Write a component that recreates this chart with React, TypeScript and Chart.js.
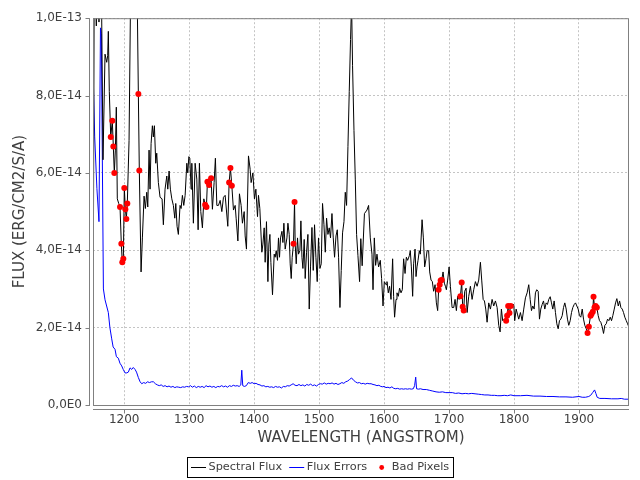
import React, { useEffect, useRef } from "react";
import { Chart, registerables } from "chart.js";

Chart.register(...registerables);

// ---- data (flux values in units of 1e-14 erg/cm2/s/A) ----
const FLUX_UNIT = 1e-14;
const X_MIN = 1152;
const X_MAX = 1977;
const Y_MAX = 1e-13;
const Y_STEP = 2e-14;
const X_STEP = 100;

const fluxWavelength = [
  1152.5, 1154.0, 1157.1, 1159.2, 1161.2, 1164.3, 1167.4, 1170.5, 1173.1, 1174.6,
  1175.6, 1177.1, 1179.3, 1181.7, 1183.3, 1184.8, 1186.4, 1187.9, 1189.4, 1191.6,
  1193.6, 1195.6, 1197.1, 1198.7, 1200.2, 1201.8, 1203.3, 1204.8, 1207.5, 1210.1,
  1213.2, 1217.0, 1220.3, 1221.8, 1223.3, 1226.0, 1228.0, 1230.6, 1232.6, 1234.7,
  1236.3, 1238.3, 1239.8, 1241.4, 1243.4, 1244.9, 1246.5, 1248.6, 1250.1, 1252.6,
  1255.2, 1258.3, 1260.3, 1262.9, 1265.6, 1267.1, 1269.1, 1271.1, 1273.3, 1275.7,
  1277.9, 1279.4, 1281.4, 1283.4, 1286.0, 1287.6, 1289.6, 1291.7, 1293.8, 1296.4,
  1297.9, 1299.5, 1301.0, 1303.0, 1304.1, 1306.5, 1309.2, 1311.8, 1313.8, 1315.8,
  1317.9, 1320.4, 1322.6, 1324.6, 1326.6, 1328.1, 1330.7, 1333.8, 1335.8, 1338.4,
  1340.4, 1342.6, 1345.1, 1347.7, 1350.3, 1352.8, 1355.4, 1359.5, 1361.5, 1363.5,
  1365.7, 1368.2, 1370.8, 1372.3, 1375.0, 1377.4, 1380.0, 1382.0, 1384.7, 1386.2,
  1388.2, 1391.3, 1393.9, 1395.4, 1398.1, 1400.5, 1402.7, 1405.2, 1406.7, 1408.8,
  1411.9, 1413.5, 1415.5, 1417.0, 1419.0, 1421.2, 1422.7, 1424.3, 1425.8, 1428.3,
  1430.9, 1432.4, 1434.0, 1436.0, 1437.5, 1439.1, 1440.6, 1442.8, 1444.3, 1445.8,
  1447.8, 1450.5, 1452.0, 1454.0, 1455.5, 1457.1, 1458.6, 1460.6, 1462.2, 1463.2,
  1464.8, 1466.8, 1468.3, 1470.5, 1472.0, 1473.6, 1475.1, 1477.1, 1478.6, 1480.7,
  1482.8, 1484.8, 1486.8, 1489.0, 1491.0, 1493.0, 1495.1, 1497.1, 1499.1, 1501.3,
  1503.3, 1505.3, 1507.5, 1509.5, 1511.5, 1513.6, 1515.6, 1517.6, 1519.8, 1521.8,
  1523.8, 1526.0, 1528.0, 1530.0, 1532.1, 1534.1, 1536.1, 1538.3, 1540.3, 1542.3,
  1544.4, 1546.4, 1548.4, 1550.0, 1551.5, 1553.7, 1555.7, 1557.7, 1559.8, 1562.3,
  1564.2, 1566.3, 1569.8, 1573.7, 1576.2, 1578.8, 1581.4, 1583.0, 1585.0, 1587.0,
  1589.1, 1591.6, 1594.2, 1596.2, 1598.4, 1600.4, 1603.0, 1604.5, 1606.5, 1608.5,
  1610.7, 1613.2, 1614.7, 1616.2, 1618.4, 1619.9, 1621.9, 1623.9, 1626.1, 1628.1,
  1630.1, 1632.3, 1634.3, 1636.3, 1638.9, 1640.4, 1642.0, 1644.0, 1645.5, 1647.7,
  1649.2, 1650.7, 1652.3, 1654.3, 1655.8, 1658.5, 1660.5, 1662.5, 1664.6, 1666.2,
  1668.6, 1670.2, 1672.3, 1674.3, 1676.3, 1678.5, 1680.5, 1682.5, 1684.0, 1685.6,
  1687.1, 1688.7, 1690.8, 1692.8, 1694.4, 1695.9, 1697.9, 1700.1, 1702.1, 1704.7,
  1707.2, 1709.3, 1711.3, 1713.3, 1715.5, 1717.5, 1719.5, 1721.0, 1722.6, 1724.1,
  1726.3, 1727.8, 1730.3, 1732.9, 1735.5, 1738.0, 1740.6, 1743.2, 1745.7, 1748.3,
  1750.3, 1752.5, 1754.5, 1756.5, 1758.6, 1761.1, 1763.7, 1766.3, 1768.8, 1771.4,
  1774.0, 1776.5, 1778.6, 1780.6, 1782.6, 1784.8, 1787.9, 1789.4, 1791.0, 1793.0,
  1795.0, 1797.1, 1799.6, 1801.1, 1803.3, 1805.3, 1807.3, 1809.9, 1812.5, 1815.0,
  1817.6, 1820.2, 1822.7, 1824.9, 1826.9, 1828.9, 1831.0, 1833.0, 1835.0, 1837.2,
  1839.2, 1841.2, 1843.4, 1845.4, 1847.4, 1849.5, 1851.5, 1853.5, 1855.7, 1857.7,
  1859.7, 1861.8, 1863.8, 1865.9, 1868.0, 1870.0, 1872.0, 1874.2, 1876.2, 1878.2,
  1880.3, 1882.3, 1884.3, 1886.5, 1888.5, 1890.5, 1892.7, 1894.7, 1896.7, 1898.8,
  1900.8, 1902.8, 1905.0, 1907.0, 1909.0, 1911.2, 1913.2, 1915.2, 1917.8, 1919.3,
  1921.3, 1922.4, 1923.9, 1925.5, 1927.5, 1929.6, 1931.6, 1933.6, 1935.8, 1937.8,
  1939.8, 1942.0, 1944.0, 1946.0, 1948.1, 1950.1, 1952.1, 1954.3, 1956.3, 1958.3,
  1960.5, 1962.5, 1964.5, 1966.6, 1968.6, 1970.6, 1972.8, 1974.8, 1976.8,
];

const fluxValue = [
  3.27, 12.0, 9.8, 12.0, 9.9, 12.0, 6.34, 9.07, 8.86, 9.03,
  9.66, 8.1, 6.93, 7.35, 6.68, 6.0, 6.59, 7.7, 5.33, 5.21,
  5.12, 4.17, 3.69, 3.78, 5.61, 5.06, 4.81, 5.21, 6.84, 11.0,
  14.0, 14.0, 10.2, 8.04, 6.06, 3.44, 4.32, 5.4, 5.08, 5.5,
  5.12, 6.59, 5.58, 6.76, 7.22, 6.93, 7.22, 6.25, 6.51, 5.75,
  5.37, 5.33, 4.66, 5.58, 5.92, 5.58, 6.05, 5.58, 5.33, 5.16,
  4.83, 5.21, 4.62, 4.41, 5.16, 5.08, 5.42, 5.16, 5.42, 6.25,
  6.0, 6.42, 6.38, 5.58, 6.25, 4.7, 6.25, 5.84, 4.53, 6.25,
  5.0, 4.58, 5.33, 5.18, 5.12, 5.77, 5.69, 5.86, 5.06, 5.75,
  6.38, 5.16, 5.16, 5.29, 5.0, 5.37, 5.42, 4.62, 5.75, 6.13,
  5.67, 5.04, 5.16, 4.83, 4.24, 5.46, 5.16, 4.7, 5.0, 4.37,
  4.03, 6.44, 6.09, 5.75, 6.0, 5.33, 5.58, 4.87, 5.42, 5.08,
  3.95, 4.16, 4.58, 3.69, 4.74, 3.19, 4.16, 4.41, 3.69, 2.85,
  3.9, 3.82, 3.99, 3.74, 4.32, 3.82, 4.32, 4.49, 4.2, 4.7,
  4.03, 4.32, 4.7, 4.41, 3.65, 3.27, 3.82, 4.17, 5.25, 4.16,
  3.65, 4.32, 3.9, 3.99, 4.76, 3.82, 3.53, 4.28, 3.27, 3.95,
  4.41, 2.48, 3.57, 4.59, 3.48, 4.66, 3.82, 3.19, 4.32, 3.53,
  3.65, 5.21, 4.66, 3.95, 4.83, 4.41, 4.58, 4.32, 4.95, 4.32,
  3.82, 4.37, 4.53, 3.82, 2.52, 3.48, 4.45, 4.74, 5.5, 5.16,
  6.68, 8.1, 9.45, 10.4, 8.77, 7.1, 5.84, 4.41, 3.86, 3.19,
  4.3, 3.6, 4.95, 5.04, 5.16, 4.32, 3.9, 2.98, 4.32, 3.61,
  3.9, 3.57, 3.74, 3.27, 2.56, 3.19, 3.11, 3.19, 2.9, 3.07,
  2.73, 3.78, 2.81, 2.27, 2.73, 2.9, 2.81, 3.02, 2.9, 2.98,
  3.78, 3.4, 3.82, 3.74, 3.86, 3.99, 3.57, 2.81, 3.65, 4.03,
  3.32, 3.57, 3.74, 3.99, 3.9, 4.79, 4.32, 3.57, 3.78, 3.99,
  3.99, 3.44, 3.23, 3.19, 2.94, 3.11, 2.64, 2.44, 2.98, 3.11,
  3.22, 3.23, 3.44, 3.15, 3.07, 2.98, 3.23, 3.57, 3.07, 2.52,
  2.52, 2.73, 2.44, 2.81, 2.73, 2.81, 3.17, 2.54, 2.44, 2.94,
  3.02, 2.39, 2.81, 3.07, 2.73, 2.98, 3.19, 3.07, 3.23, 3.69,
  3.23, 2.73, 2.69, 2.48, 2.14, 2.64, 2.48, 2.73, 2.56, 2.69,
  2.52, 2.06, 1.89, 2.48, 2.18, 2.22, 2.18, 2.31, 2.56, 2.38,
  2.56, 2.58, 2.6, 2.18, 2.48, 2.35, 2.22, 2.39, 2.18, 2.48,
  2.77, 2.9, 3.11, 2.73, 2.44, 2.56, 2.48, 2.9, 2.98, 2.94,
  2.22, 2.48, 2.6, 2.69, 2.48, 2.64, 2.6, 2.73, 2.8, 2.64,
  2.48, 2.69, 2.39, 2.1, 1.97, 2.18, 2.22, 2.31, 2.52, 2.64,
  2.48, 2.22, 2.06, 2.18, 2.39, 2.52, 2.6, 2.64, 2.56, 2.48,
  2.31, 2.27, 2.48, 2.22, 2.06, 1.97, 1.86, 2.02, 2.31, 2.35,
  2.41, 2.8, 2.52, 2.56, 2.52, 2.31, 2.18, 2.14, 2.02, 1.85,
  2.06, 2.1, 2.22, 2.18, 2.27, 2.18, 2.31, 2.48, 2.64, 2.75,
  2.56, 2.69, 2.52, 2.48, 2.39, 2.27, 2.18, 2.1, 2.02,
];

const errorWavelength = [
  1152.0, 1154.6, 1158.0, 1161.2, 1163.5, 1164.8, 1168.0, 1170.5, 1175.6, 1178.0,
  1180.8, 1183.0, 1185.9, 1188.0, 1191.0, 1193.5, 1196.2, 1198.5, 1201.3, 1204.0,
  1206.4, 1209.0, 1211.6, 1214.0, 1216.7, 1219.0, 1221.8, 1224.5, 1227.0, 1230,
  1233, 1236, 1239, 1242, 1245, 1248, 1251, 1254, 1257, 1260,
  1263, 1266, 1269, 1272, 1275, 1278, 1281, 1284, 1287, 1290,
  1293, 1296, 1299, 1302, 1305, 1308, 1311, 1314, 1317, 1320,
  1323, 1326, 1329, 1332, 1335, 1338, 1341, 1344, 1347, 1350,
  1353, 1356, 1359, 1362, 1365, 1368, 1371, 1374, 1377, 1379.5,
  1381, 1382.5, 1385, 1388, 1391, 1394, 1397, 1400, 1403, 1406,
  1409, 1412, 1415, 1418, 1421, 1424, 1427, 1430, 1433, 1436,
  1439, 1442, 1445, 1448, 1451, 1454, 1457, 1460, 1463, 1466,
  1469, 1472, 1475, 1478, 1481, 1484, 1487, 1490, 1493, 1496,
  1499, 1502, 1505, 1508, 1511, 1514, 1517, 1520, 1523, 1526,
  1529, 1532, 1535, 1538, 1541, 1544, 1547, 1550, 1553, 1556,
  1559, 1562, 1565, 1568, 1571, 1574, 1577, 1580, 1583, 1586,
  1589, 1592, 1595, 1598, 1600, 1603, 1606, 1609, 1612, 1615,
  1618, 1621, 1624, 1627, 1630, 1633, 1636, 1639, 1642, 1645,
  1647, 1648.7, 1650, 1653, 1656, 1660, 1665, 1670, 1675, 1680,
  1685, 1690, 1695, 1700, 1705, 1710, 1715, 1720, 1725, 1730,
  1735, 1740, 1745, 1750, 1755, 1760, 1765, 1770, 1775, 1780,
  1785, 1790, 1795, 1800, 1810, 1820, 1830, 1840, 1850, 1860,
  1870, 1880, 1890, 1900, 1905, 1910, 1915, 1918, 1921, 1924,
  1926, 1928, 1932, 1940, 1950, 1960, 1965, 1970, 1977,
];

const errorValue = [
  8.74, 6.93, 5.6, 4.74, 9.75, 9.6, 3.0, 2.72, 2.39, 2.0,
  1.71, 1.5, 1.44, 1.25, 1.21, 1.08, 1.01, 0.92, 0.83, 0.83,
  0.85, 0.96, 0.92, 0.97, 0.92, 0.85, 0.71, 0.6, 0.55, 0.58,
  0.56, 0.6, 0.58, 0.6, 0.6, 0.55, 0.52, 0.5, 0.52, 0.48,
  0.5, 0.47, 0.49, 0.46, 0.48, 0.45, 0.47, 0.46, 0.45, 0.47,
  0.46, 0.48, 0.47, 0.5, 0.46, 0.49, 0.45, 0.48, 0.46, 0.48,
  0.45, 0.5, 0.47, 0.49, 0.46, 0.48, 0.45, 0.48, 0.47, 0.5,
  0.47, 0.49, 0.46, 0.5, 0.48, 0.51, 0.49, 0.5, 0.48, 0.52,
  0.9, 0.5, 0.48, 0.5, 0.58, 0.56, 0.58, 0.55, 0.56, 0.53,
  0.52, 0.49, 0.5, 0.47, 0.48, 0.46, 0.47, 0.45, 0.48, 0.46,
  0.47, 0.44, 0.48, 0.47, 0.5, 0.49, 0.52, 0.55, 0.51, 0.5,
  0.53, 0.5, 0.52, 0.49, 0.53, 0.51, 0.54, 0.5, 0.52, 0.49,
  0.53, 0.55, 0.54, 0.57, 0.54, 0.56, 0.55, 0.57, 0.54, 0.56,
  0.53, 0.55, 0.58, 0.56, 0.6, 0.62, 0.66, 0.7, 0.64, 0.6,
  0.57, 0.58, 0.55, 0.56, 0.54, 0.56, 0.55, 0.55, 0.53, 0.52,
  0.5, 0.51, 0.48, 0.47, 0.48, 0.45, 0.46, 0.44, 0.47, 0.43,
  0.42, 0.43, 0.41, 0.42, 0.41, 0.42, 0.41, 0.42, 0.41, 0.42,
  0.5, 0.72, 0.42, 0.41, 0.42, 0.4, 0.4, 0.38, 0.36, 0.34,
  0.33, 0.34, 0.32, 0.32, 0.32, 0.3, 0.31, 0.29, 0.3, 0.29,
  0.3, 0.29, 0.28, 0.27, 0.26, 0.26, 0.25, 0.25, 0.24, 0.24,
  0.25, 0.24, 0.26, 0.24, 0.24, 0.25, 0.23, 0.23, 0.22, 0.22,
  0.21, 0.21, 0.2, 0.22, 0.2, 0.2, 0.22, 0.25, 0.32, 0.39,
  0.3, 0.2, 0.17, 0.17, 0.16, 0.16, 0.17, 0.15, 0.15,
];

const badWavelength = [
  1179.3, 1181.7, 1183.3, 1184.8, 1193.6, 1195.6, 1197.1, 1198.7, 1200.2, 1201.8,
  1203.3, 1204.8, 1221.8, 1223.3, 1324.6, 1326.6, 1328.1, 1330.7, 1333.8, 1361.5,
  1363.5, 1365.7, 1460.6, 1462.2, 1684.0, 1685.6, 1687.1, 1688.7, 1717.5, 1719.5,
  1721.0, 1722.6, 1787.9, 1789.4, 1791.0, 1793.0, 1795.0, 1913.2, 1915.2, 1917.8,
  1919.3, 1921.3, 1922.4, 1923.9, 1925.5, 1927.5,
];

const badValue = [
  6.93, 7.35, 6.68, 6.0, 5.12, 4.17, 3.69, 3.78, 5.61, 5.06,
  4.81, 5.21, 8.04, 6.06, 5.18, 5.12, 5.77, 5.69, 5.86, 5.75,
  6.13, 5.67, 4.17, 5.25, 2.98, 3.11, 3.22, 3.23, 2.81, 3.17,
  2.54, 2.44, 2.18, 2.31, 2.56, 2.38, 2.56, 1.86, 2.02, 2.31,
  2.35, 2.41, 2.8, 2.52, 2.56, 2.52,
];

const seriesLabels = ["Spectral Flux", "Flux Errors", "Bad Pixels"];
const seriesColors = ["#000000", "#0000ff", "#ff0000"];
const seriesIsDots = [false, false, true];
const xTitle = "WAVELENGTH (ANGSTROM)";
const yTitle = "FLUX (ERG/CM2/S/A)";

const FONT = '"DejaVu Sans", "Liberation Sans", sans-serif';
const TEXT_COLOR = "#404040";
const AXIS_COLOR = "#808080";

const toPoints = (xs: number[], ys: number[]) =>
  xs.map((x, i) => ({ x, y: ys[i] * FLUX_UNIT }));

const sciLabel = (v: number) => {
  if (Math.abs(v) < 1e-30) return "0,0E0";
  let e = Math.floor(Math.log10(Math.abs(v)));
  let m = v / Math.pow(10, e);
  if (Math.round(m * 10) / 10 >= 10) {
    m /= 10;
    e += 1;
  }
  return m.toFixed(1).replace(".", ",") + "E" + e;
};

const framePlugin = {
  id: "jfreeFrame",
  afterDatasetsDraw(chart: any) {
    const { ctx, chartArea, scales } = chart;
    const { left, right, top, bottom } = chartArea;
    ctx.save();
    ctx.strokeStyle = AXIS_COLOR;
    ctx.lineWidth = 1;
    ctx.setLineDash([]);
    // plot outline
    ctx.strokeRect(left + 0.5, top + 0.5, right - left - 1, bottom - top);
    // offset y axis
    const ax = left - 3.5;
    ctx.beginPath();
    ctx.moveTo(ax, top);
    ctx.lineTo(ax, bottom + 1);
    scales.y.ticks.forEach((t: any) => {
      const py = Math.round(scales.y.getPixelForValue(t.value)) + 0.5;
      ctx.moveTo(ax - 4, py);
      ctx.lineTo(ax, py);
    });
    // offset x axis
    const ay = bottom + 4.5;
    ctx.moveTo(left, ay);
    ctx.lineTo(right, ay);
    scales.x.ticks.forEach((t: any) => {
      const px = Math.round(scales.x.getPixelForValue(t.value)) + 0.5;
      ctx.moveTo(px, ay);
      ctx.lineTo(px, ay + 4);
    });
    ctx.stroke();
    ctx.restore();
  },
};

const legendPlugin = {
  id: "boxLegend",
  afterDraw(chart: any) {
    const { ctx } = chart;
    const labels: string[] = chart.data.datasets.map((d: any) => d.label);
    ctx.save();
    ctx.setLineDash([]);
    ctx.font = `11.3px ${FONT}`;
    const sample = 15;
    const gapText = 2.5;
    const gapItem = 7;
    const pad = 4;
    const widths = labels.map((l) => ctx.measureText(l).width);
    let total = pad * 2 + gapItem * (labels.length - 1);
    widths.forEach((w: number) => (total += sample + gapText + w));
    const boxLeft = Math.round((chart.width - total) / 2);
    const boxTop = chart.height - 23;
    const boxH = 20;
    ctx.strokeStyle = "#000000";
    ctx.lineWidth = 1;
    ctx.strokeRect(boxLeft + 0.5, boxTop + 0.5, Math.round(total), boxH);
    const cy = boxTop + 10;
    let x = boxLeft + pad;
    labels.forEach((label, i) => {
      const color = seriesColors[i];
      if (seriesIsDots[i]) {
        ctx.fillStyle = color;
        ctx.beginPath();
        ctx.arc(x + sample / 2, cy + 0.5, 2.4, 0, Math.PI * 2);
        ctx.fill();
      } else {
        ctx.strokeStyle = color;
        ctx.lineWidth = 1;
        ctx.beginPath();
        ctx.moveTo(x, cy + 0.5);
        ctx.lineTo(x + sample, cy + 0.5);
        ctx.stroke();
      }
      x += sample + gapText;
      ctx.fillStyle = TEXT_COLOR;
      ctx.textBaseline = "middle";
      ctx.textAlign = "left";
      ctx.fillText(label, x, cy + 0.5);
      x += widths[i] + gapItem;
    });
    ctx.restore();
  },
};

export default function App() {
  const ref = useRef<HTMLCanvasElement>(null);

  useEffect(() => {
    document.body.style.margin = "0";
    const canvas = ref.current!;
    const chart = new Chart(canvas, {
      type: "line",
      data: {
        datasets: [
          {
            label: seriesLabels[0],
            data: toPoints(fluxWavelength, fluxValue),
            borderColor: seriesColors[0],
            backgroundColor: seriesColors[0],
            borderWidth: 1,
            pointRadius: 0,
            tension: 0,
            order: 1,
          },
          {
            label: seriesLabels[1],
            data: toPoints(errorWavelength, errorValue),
            borderColor: seriesColors[1],
            backgroundColor: seriesColors[1],
            borderWidth: 1,
            pointRadius: 0,
            tension: 0,
            order: 2,
          },
          {
            label: seriesLabels[2],
            data: toPoints(badWavelength, badValue),
            showLine: false,
            borderColor: seriesColors[2],
            backgroundColor: seriesColors[2],
            pointBackgroundColor: seriesColors[2],
            pointBorderWidth: 0,
            pointRadius: 3,
            order: 0,
          } as any,
        ],
      },
      options: {
        responsive: false,
        animation: false,
        events: [],
        layout: { padding: { left: 0, right: 11, top: 8, bottom: 33 } },
        plugins: {
          legend: { display: false },
          tooltip: { enabled: false },
        },
        scales: {
          x: {
            type: "linear",
            position: "bottom",
            min: X_MIN,
            max: X_MAX,
            afterFit: (s: any) => {
              s.height = 42;
            },
            ticks: {
              stepSize: X_STEP,
              includeBounds: false,
              padding: 8,
              maxRotation: 0,
              autoSkip: false,
              color: TEXT_COLOR,
              font: { family: FONT, size: 12 },
              callback: (v: any) => String(v),
            },
            grid: { color: "#c4c4c4", lineWidth: 1, drawTicks: false },
            border: { display: false, dash: [2, 2] },
            title: {
              display: true,
              text: xTitle,
              color: TEXT_COLOR,
              font: { family: FONT, size: 15 },
              padding: { top: 0, bottom: 0 },
            },
          },
          y: {
            type: "linear",
            position: "left",
            min: 0,
            max: Y_MAX,
            afterFit: (s: any) => {
              s.width = 93;
            },
            ticks: {
              stepSize: Y_STEP,
              padding: 11,
              color: TEXT_COLOR,
              font: { family: FONT, size: 12 },
              callback: (v: any) => sciLabel(Number(v)),
            },
            grid: { color: "#c4c4c4", lineWidth: 1, drawTicks: false },
            border: { display: false, dash: [2, 2] },
            title: {
              display: true,
              text: yTitle,
              color: TEXT_COLOR,
              font: { family: FONT, size: 15 },
              padding: { top: 11.5, bottom: 0 },
            },
          },
        },
      } as any,
      plugins: [framePlugin, legendPlugin],
    });
    return () => chart.destroy();
  }, []);

  return (
    <canvas
      ref={ref}
      width={640}
      height={480}
      style={{ display: "block", width: 640, height: 480 }}
    />
  );
}
